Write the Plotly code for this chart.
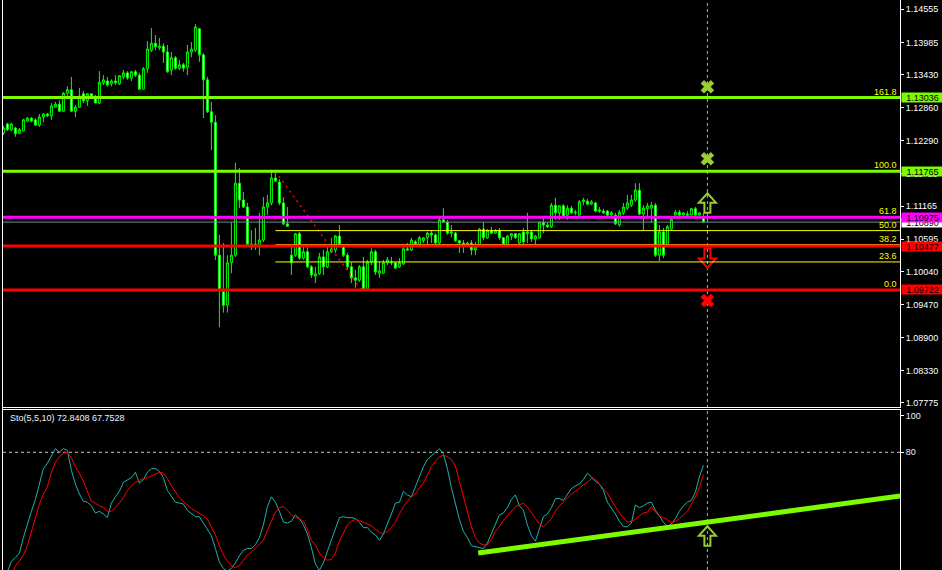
import plotly.graph_objects as go

# ---- price bars (176 bars) ----
opens = [
    1.1242, 1.1258, 1.1248, 1.1251, 1.1242, 1.1246, 1.1263, 1.1268, 1.1265, 1.1256,
    1.1270, 1.1275, 1.1272, 1.1287, 1.1292, 1.1280, 1.1311, 1.1317, 1.1280, 1.1287,
    1.1310, 1.1298, 1.1310, 1.1303, 1.1294, 1.1329, 1.1332, 1.1327, 1.1332, 1.1327,
    1.1339, 1.1346, 1.1337, 1.1348, 1.1342, 1.1318, 1.1353, 1.1385, 1.1397, 1.1389,
    1.1392, 1.1382, 1.1351, 1.1372, 1.1354, 1.1360, 1.1356, 1.1382, 1.1385, 1.1422,
    1.1377, 1.1334, 1.1279, 1.1261, 1.1032, 1.0969, 1.0946, 1.1019, 1.1032, 1.1156,
    1.1127, 1.1115, 1.1048, 1.1051, 1.1050, 1.1058, 1.1115, 1.1122, 1.1165, 1.1158,
    1.1122, 1.1086, 1.1032, 1.1032, 1.1069, 1.1027, 1.1038, 1.1012, 1.0996, 1.1000,
    1.1029, 1.1012, 1.1038, 1.1041, 1.1065, 1.1050, 1.1032, 1.1012, 1.0993, 1.0989,
    1.1012, 1.0974, 1.1020, 1.1038, 1.1001, 1.1001, 1.1019, 1.1020, 1.1019, 1.1012,
    1.1017, 1.1043, 1.1041, 1.1055, 1.1050, 1.1057, 1.1062, 1.1070, 1.1067, 1.1053,
    1.1093, 1.1089, 1.1070, 1.1070, 1.1057, 1.1053, 1.1050, 1.1053, 1.1041, 1.1050,
    1.1077, 1.1062, 1.1075, 1.1070, 1.1075, 1.1062, 1.1050, 1.1065, 1.1069, 1.1053,
    1.1072, 1.1069, 1.1072, 1.1060, 1.1062, 1.1089, 1.1084, 1.1081, 1.1118, 1.1105,
    1.1117, 1.1101, 1.1113, 1.1105, 1.1101, 1.1124, 1.1125, 1.1120, 1.1122, 1.1108,
    1.1108, 1.1108, 1.1101, 1.1101, 1.1084, 1.1105, 1.1113, 1.1118, 1.1127, 1.1144,
    1.1103, 1.1112, 1.1113, 1.1118, 1.1032, 1.1072, 1.1050, 1.1077, 1.1101, 1.1106,
    1.1101, 1.1103, 1.1101, 1.1112, 1.1101, 1.1096,
]
highs = [
    1.1255, 1.1260, 1.1260, 1.1253, 1.1251, 1.1267, 1.1270, 1.1270, 1.1268, 1.1275,
    1.1277, 1.1277, 1.1294, 1.1296, 1.1299, 1.1313, 1.1323, 1.1339, 1.1291, 1.1320,
    1.1315, 1.1311, 1.1311, 1.1308, 1.1349, 1.1342, 1.1339, 1.1335, 1.1342, 1.1342,
    1.1351, 1.1349, 1.1349, 1.1351, 1.1346, 1.1356, 1.1401, 1.1423, 1.1411, 1.1406,
    1.1397, 1.1394, 1.1382, 1.1375, 1.1368, 1.1363, 1.1394, 1.1399, 1.1430, 1.1423,
    1.1380, 1.1339, 1.1296, 1.1273, 1.1067, 1.1053, 1.1032, 1.1089, 1.1191, 1.1182,
    1.1141, 1.1122, 1.1075, 1.1079, 1.1105, 1.1132, 1.1136, 1.1179, 1.1174, 1.1163,
    1.1132, 1.1115, 1.1046, 1.1070, 1.1072, 1.1046, 1.1046, 1.1015, 1.1012, 1.1036,
    1.1041, 1.1050, 1.1062, 1.1067, 1.1084, 1.1051, 1.1036, 1.1020, 1.1007, 1.1015,
    1.1029, 1.1024, 1.1044, 1.1041, 1.1020, 1.1024, 1.1029, 1.1029, 1.1020, 1.1027,
    1.1046, 1.1053, 1.1062, 1.1058, 1.1065, 1.1063, 1.1072, 1.1075, 1.1070, 1.1098,
    1.1113, 1.1093, 1.1084, 1.1072, 1.1058, 1.1058, 1.1055, 1.1058, 1.1055, 1.1079,
    1.1089, 1.1077, 1.1081, 1.1077, 1.1079, 1.1063, 1.1067, 1.1070, 1.1070, 1.1070,
    1.1079, 1.1105, 1.1075, 1.1067, 1.1089, 1.1098, 1.1089, 1.1122, 1.1131, 1.1118,
    1.1120, 1.1118, 1.1117, 1.1110, 1.1127, 1.1131, 1.1129, 1.1127, 1.1124, 1.1115,
    1.1112, 1.1110, 1.1108, 1.1105, 1.1110, 1.1122, 1.1136, 1.1136, 1.1156, 1.1156,
    1.1118, 1.1122, 1.1124, 1.1122, 1.1084, 1.1079, 1.1084, 1.1098, 1.1110, 1.1110,
    1.1106, 1.1108, 1.1113, 1.1115, 1.1106, 1.1105,
]
lows = [
    1.1239, 1.1246, 1.1246, 1.1236, 1.1241, 1.1246, 1.1261, 1.1261, 1.1255, 1.1253,
    1.1261, 1.1270, 1.1265, 1.1286, 1.1279, 1.1279, 1.1304, 1.1279, 1.1270, 1.1286,
    1.1294, 1.1289, 1.1301, 1.1294, 1.1292, 1.1325, 1.1322, 1.1323, 1.1325, 1.1325,
    1.1335, 1.1334, 1.1332, 1.1339, 1.1317, 1.1317, 1.1346, 1.1382, 1.1385, 1.1385,
    1.1363, 1.1346, 1.1342, 1.1351, 1.1351, 1.1348, 1.1342, 1.1373, 1.1382, 1.1365,
    1.1268, 1.1277, 1.1213, 1.1024, 1.0908, 1.0933, 1.0933, 1.1001, 1.1029, 1.1113,
    1.1113, 1.1046, 1.1041, 1.1041, 1.1032, 1.1055, 1.1101, 1.1118, 1.1158, 1.1118,
    1.1084, 1.1081, 1.0998, 1.1029, 1.1024, 1.1024, 1.1010, 1.0993, 1.0984, 1.0998,
    1.0998, 1.1010, 1.1036, 1.1036, 1.1046, 1.1029, 1.1007, 1.0984, 1.0976, 1.0986,
    1.0972, 1.0974, 1.1015, 1.0998, 1.0993, 1.1000, 1.1015, 1.1015, 1.1008, 1.1010,
    1.1015, 1.1039, 1.1039, 1.1046, 1.1048, 1.1053, 1.1051, 1.1053, 1.1051, 1.1051,
    1.1088, 1.1067, 1.1063, 1.1055, 1.1036, 1.1036, 1.1048, 1.1032, 1.1032, 1.1048,
    1.1058, 1.1060, 1.1069, 1.1069, 1.1058, 1.1048, 1.1048, 1.1058, 1.1060, 1.1051,
    1.1050, 1.1053, 1.1055, 1.1050, 1.1060, 1.1070, 1.1079, 1.1079, 1.1093, 1.1093,
    1.1096, 1.1093, 1.1103, 1.1101, 1.1100, 1.1118, 1.1118, 1.1118, 1.1106, 1.1105,
    1.1103, 1.1100, 1.1098, 1.1084, 1.1081, 1.1101, 1.1110, 1.1115, 1.1124, 1.1101,
    1.1075, 1.1098, 1.1088, 1.1029, 1.1022, 1.1027, 1.1046, 1.1075, 1.1100, 1.1100,
    1.1100, 1.1100, 1.1100, 1.1100, 1.1100, 1.1088,
]
closes = [
    1.1251, 1.1248, 1.1258, 1.1241, 1.1248, 1.1265, 1.1268, 1.1263, 1.1256, 1.1270,
    1.1275, 1.1272, 1.1289, 1.1292, 1.1280, 1.1311, 1.1317, 1.1280, 1.1287, 1.1306,
    1.1298, 1.1310, 1.1304, 1.1294, 1.1330, 1.1334, 1.1325, 1.1332, 1.1329, 1.1341,
    1.1346, 1.1337, 1.1348, 1.1342, 1.1318, 1.1353, 1.1387, 1.1397, 1.1391, 1.1392,
    1.1382, 1.1348, 1.1372, 1.1354, 1.1360, 1.1354, 1.1382, 1.1387, 1.1425, 1.1377,
    1.1334, 1.1279, 1.1261, 1.1032, 1.0972, 1.0946, 1.1019, 1.1032, 1.1156, 1.1127,
    1.1115, 1.1050, 1.1051, 1.1048, 1.1058, 1.1115, 1.1122, 1.1165, 1.1160, 1.1122,
    1.1086, 1.1082, 1.1019, 1.1069, 1.1027, 1.1038, 1.1012, 1.0998, 1.1000, 1.1029,
    1.1012, 1.1038, 1.1043, 1.1065, 1.1050, 1.1032, 1.1012, 1.0993, 1.0989, 1.1012,
    1.0974, 1.1020, 1.1038, 1.1003, 1.1005, 1.1019, 1.1024, 1.1019, 1.1010, 1.1019,
    1.1043, 1.1041, 1.1058, 1.1050, 1.1062, 1.1062, 1.1070, 1.1067, 1.1053, 1.1093,
    1.1089, 1.1070, 1.1072, 1.1057, 1.1053, 1.1050, 1.1053, 1.1041, 1.1046, 1.1077,
    1.1062, 1.1075, 1.1070, 1.1075, 1.1062, 1.1050, 1.1065, 1.1069, 1.1062, 1.1069,
    1.1055, 1.1072, 1.1060, 1.1065, 1.1089, 1.1084, 1.1081, 1.1118, 1.1105, 1.1117,
    1.1098, 1.1113, 1.1105, 1.1106, 1.1124, 1.1127, 1.1120, 1.1124, 1.1108, 1.1110,
    1.1105, 1.1101, 1.1105, 1.1086, 1.1106, 1.1115, 1.1122, 1.1127, 1.1144, 1.1103,
    1.1113, 1.1117, 1.1118, 1.1032, 1.1072, 1.1032, 1.1081, 1.1094, 1.1106, 1.1101,
    1.1105, 1.1101, 1.1112, 1.1101, 1.1105, 1.1089,
]

# ---- stochastic (5,5,10) ----
stoch_k = [
    8, 14, 20, 22, 24.5, 33, 41, 47.5, 54, 62,
    71, 74, 78, 82, 80, 82, 81, 70, 62.5, 57,
    53, 52.5, 50.5, 46.5, 47.5, 46, 44, 52, 55.5, 58.5,
    63.5, 65, 66, 69, 63, 65, 69, 71, 71, 69.5,
    66, 59, 55.5, 52.5, 52, 51.5, 48, 46.5, 44.5, 44.5,
    41, 38, 34, 27, 19.5, 16, 14.5, 16, 19, 23,
    26, 27, 27, 29, 33, 40, 50, 55.5, 52.5, 47.5,
    41.5, 41, 42, 45.5, 43.5, 40, 35, 27.5, 18.5, 15,
    19, 25.5, 32, 37.5, 44, 44.5, 44, 44, 43.5, 41.5,
    38.5, 38.5, 36, 34.5, 31.5, 35, 40, 46, 52, 52.5,
    58.5, 56.5, 55.5, 61, 67.5, 72, 76, 78, 79.5, 82,
    79, 71, 60.5, 51.5, 43, 36.5, 33, 28.5, 28, 27.5,
    27, 30, 35, 40.5, 45.5, 46.5, 49.5, 54, 56.5, 50.5,
    48, 40, 34, 31, 38, 44.5, 46, 49.5, 54.5, 54.5,
    53.5, 57, 60, 61.5, 62.5, 65, 68.5, 66.5, 64, 62.5,
    59, 52.5, 49.5, 46, 42, 39, 39, 41, 51, 49.5,
    50.5, 52, 52.5, 48, 45, 41.5, 39, 40.5, 43.5, 47.5,
    50.5, 52.5, 53.5, 58, 66.5, 72.8408,
]
stoch_d = [
    5, 8, 12, 17.5, 20, 23.5, 28.5, 36, 44.5, 51.5,
    57, 61, 69, 74.5, 77.5, 79.5, 80, 77, 72, 68.5,
    64, 58, 53, 52, 50.5, 49.5, 47.5, 47.5, 49.5, 52,
    55, 59, 61.5, 63.5, 64.5, 65.5, 66, 67, 68, 69,
    68.5, 65.5, 61.5, 58, 55, 52.5, 51, 49, 47.5, 46.5,
    45, 43, 39, 34.5, 28.5, 23.5, 20, 17.5, 16.5, 17.5,
    20.5, 23.5, 25, 27, 29.5, 31.5, 37, 42, 47, 49.5,
    50, 48, 45.5, 44, 43.5, 42, 37.5, 31.5, 29, 24.5,
    22, 20.5, 21, 24.5, 31, 35.5, 40, 42, 43, 42.5,
    41.5, 40.5, 39.5, 37.5, 36, 35, 36.5, 38.5, 41.5, 46,
    50, 53, 55.5, 57, 60.5, 63, 68, 72, 75, 77.5,
    78.5, 77.5, 76, 72.5, 64, 55.5, 48, 39, 33, 30,
    29, 29, 32, 36.5, 39, 42.5, 45, 47.5, 50, 51,
    52, 50, 46.5, 43.5, 40.5, 39, 41, 43.5, 47.5, 50.5,
    52.5, 55, 57, 58.5, 60.5, 62, 63.5, 65.5, 65, 62.5,
    60, 57.5, 53.5, 50, 46.5, 44, 41.5, 42, 43, 45,
    46.5, 47, 50, 47, 45, 44, 43, 41, 42, 43.5,
    45.5, 47.5, 51.5, 55.5, 60.5, 67.7528,
]

price_ticks = ["1.14555", "1.13985", "1.13430", "1.12860", "1.12290", "1.11725", "1.11165",
               "1.10595", "1.10040", "1.09470", "1.08900", "1.08330", "1.07775"]
stoch_ticks = [100, 80]

# horizontal lines drawn by the user
level_prices = [1.13036, 1.11765, 1.10975, 1.10477, 1.09722]
level_colors = ["#7cfc00", "#7cfc00", "#ff00ff", "#ff0000", "#ff0000"]

# fibonacci retracement
fib_high, fib_low = 1.11765, 1.09722
fib_bars = [68, 89.5]
fib_levels = [0.0, 23.6, 38.2, 50.0, 61.8, 100.0, 161.8]

# signal marks at the next bar
signal_bar = 176
target_prices = [1.1322, 1.1198]
buy_arrow_price = 1.1122
sell_arrow_price = 1.1027
stop_price = 1.0954
stoch_arrow_value = 33.9
trend_bars = [118.7, 224.2]
trend_values = [24.5, 55.9]
sto_label = "Sto(5,5,10) 72.8408 67.7528"

W, H = 942, 570
x_left, x_right = 3, 900
main_bottom, sub_top = 407, 410
x_min = -0.1
x_max = x_min + (x_right - x_left) / 4.0
price_top, price_bottom = 1.14715, 1.07706
stoch_top, stoch_bottom = 103.3, 15.15

LIME = "#00ff00"
YG = "#9acd32"
FONT = "Liberation Sans"

# hollow arrow outline, in pixels around its anchor (tip up)
ARROW = [(0, 9.7), (8.5, 0.3), (3, 0.3), (3, -9.7), (-3, -9.7), (-3, 0.3), (-8.5, 0.3)]

bars = list(range(len(opens)))
fig = go.Figure()

fig.add_trace(go.Candlestick(
    x=bars, open=opens, high=highs, low=lows, close=closes,
    increasing=dict(line=dict(color=LIME, width=1), fillcolor="black"),
    decreasing=dict(line=dict(color=LIME, width=1), fillcolor="white"),
    whiskerwidth=0, hoverinfo="skip", xaxis="x", yaxis="y",
))

fig.add_trace(go.Scatter(x=bars, y=stoch_k, mode="lines", line=dict(color="#20b2aa", width=1),
                         xaxis="x2", yaxis="y2", hoverinfo="skip"))
fig.add_trace(go.Scatter(x=bars, y=stoch_d, mode="lines", line=dict(color="#ff0000", width=1),
                         xaxis="x2", yaxis="y2", hoverinfo="skip"))
fig.add_trace(go.Scatter(x=trend_bars, y=trend_values, mode="lines", line=dict(color="#7cfc00", width=5),
                         xaxis="x2", yaxis="y2", hoverinfo="skip"))

# X marks (targets / stop)
fig.add_trace(go.Scatter(x=[signal_bar] * len(target_prices), y=target_prices, mode="markers",
                         marker=dict(symbol="x", size=12, color=YG, line=dict(width=0)),
                         xaxis="x", yaxis="y", hoverinfo="skip"))
fig.add_trace(go.Scatter(x=[signal_bar], y=[stop_price], mode="markers",
                         marker=dict(symbol="x", size=12, color="#ff0000", line=dict(width=0)),
                         xaxis="x", yaxis="y", hoverinfo="skip"))


def arrow(x, y, color, up, xref="x", yref="y"):
    s = 1 if up else -1
    path = "M" + " L".join(f"{px},{s * py}" for px, py in ARROW) + " Z"
    fig.add_shape(type="path", xref=xref, yref=yref, xsizemode="pixel", ysizemode="pixel",
                  xanchor=x, yanchor=y, path=path, fillcolor="rgba(0,0,0,0)",
                  line=dict(color=color, width=2), layer="above")


arrow(signal_bar, buy_arrow_price, YG, True)
arrow(signal_bar, sell_arrow_price, "#ff0000", False)
arrow(signal_bar, stoch_arrow_value, YG, True, "x2", "y2")

# vertical dashed line at the signal bar (both panels)
fig.add_shape(type="line", xref="x", yref="paper", x0=signal_bar, x1=signal_bar, y0=0, y1=1,
              line=dict(color=YG, width=1, dash="3px,3px"), layer="below")

# fibonacci (drawn before the user lines)
fig.add_shape(type="line", xref="x", yref="y", x0=fib_bars[0], x1=fib_bars[1], y0=fib_high, y1=fib_low,
              line=dict(color="#ff0000", width=1.5, dash="2px,4px"), layer="above")
for lv in fib_levels:
    fp = fib_low + lv / 100.0 * (fib_high - fib_low)
    fig.add_shape(type="line", xref="x", yref="y", x0=fib_bars[0], x1=x_max, y0=fp, y1=fp,
                  line=dict(color="#ffff00", width=1), layer="above")
    fig.add_annotation(xref="paper", yref="y", x=898 / W, y=fp, xanchor="right", yanchor="bottom",
                       text=f"{lv:.1f}", showarrow=False, borderpad=0,
                       font=dict(family=FONT, size=9, color="#ffff00"))

# bid line
bid = closes[-1]
fig.add_shape(type="line", xref="x domain", yref="y", x0=0, x1=1, y0=bid, y1=bid,
              line=dict(color="#778899", width=1), layer="above")

# user lines
for p, c in zip(level_prices, level_colors):
    fig.add_shape(type="line", xref="x domain", yref="y", x0=0, x1=1, y0=p, y1=p,
                  line=dict(color=c, width=3), layer="above")

# 80 level in stochastic window
fig.add_shape(type="line", xref="x2 domain", yref="y2", x0=0, x1=1, y0=80, y1=80,
              line=dict(color="#c8c8c8", width=1, dash="3px,3px"), layer="below")

# left border
fig.add_shape(type="line", xref="paper", yref="paper", x0=2.5 / W, x1=2.5 / W, y0=0, y1=1,
              line=dict(color="white", width=1))


# price labels on the axis
def price_box(p, bg):
    fig.add_annotation(xref="paper", yref="y", x=900.5 / W, y=p, xanchor="left", yanchor="middle",
                       text=f"{p:.5f}", showarrow=False, bgcolor=bg, borderpad=0, width=41, height=9,
                       align="center", font=dict(family=FONT, size=9, color="black"))


price_box(bid, "white")
for p, c in zip(level_prices, level_colors):
    price_box(p, c)

fig.add_annotation(xref="paper", yref="paper", x=8 / W, y=1 - 418 / H, xanchor="left", yanchor="middle",
                   text=sto_label, showarrow=False, font=dict(family=FONT, size=9, color="#eef2ff"))

axis_common = dict(showgrid=False, zeroline=False, automargin=False)
fig.update_layout(
    width=W, height=H, margin=dict(l=0, r=0, t=0, b=0, autoexpand=False),
    paper_bgcolor="black", plot_bgcolor="black", showlegend=False,
    font=dict(family=FONT, size=9, color="white"),
    xaxis=dict(domain=[x_left / W, x_right / W], range=[x_min, x_max], anchor="y",
               showticklabels=False, ticks="", showline=True, linecolor="white", linewidth=1,
               rangeslider=dict(visible=False), **axis_common),
    yaxis=dict(domain=[1 - main_bottom / H, 1], range=[price_bottom, price_top], anchor="x", side="right",
               tickvals=[float(t) for t in price_ticks], ticktext=price_ticks,
               ticks="outside", ticklen=3, tickcolor="white", showline=True, mirror=True,
               linecolor="white", linewidth=1, tickfont=dict(family=FONT, size=9, color="white"),
               **axis_common),
    xaxis2=dict(domain=[x_left / W, x_right / W], range=[x_min, x_max], anchor="y2", side="top",
                showticklabels=False, ticks="", showline=True, linecolor="white", linewidth=1,
                **axis_common),
    yaxis2=dict(domain=[0, 1 - sub_top / H], range=[stoch_bottom, stoch_top], anchor="x2", side="right",
                tickvals=stoch_ticks, ticktext=[str(t) for t in stoch_ticks],
                ticks="outside", ticklen=3, tickcolor="white", showline=True, mirror=True,
                linecolor="white", linewidth=1, tickfont=dict(family=FONT, size=9, color="#e8f0ff"),
                **axis_common),
)

# the page's default body margin would shift the figure by 8px
fig.write_html("out.html", config={"displayModeBar": False},
               post_script="document.body.style.margin='0';")
